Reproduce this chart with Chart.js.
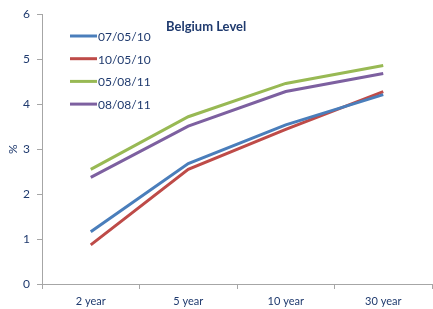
<!DOCTYPE html>
<html>
<head>
<meta charset="utf-8">
<script src="https://cdn.jsdelivr.net/npm/chart.js@4"></script>
<style>
  html, body { margin: 0; padding: 0; background: #fff; }
  #wrap { width: 433px; height: 309px; }
</style>
</head>
<body>
<div id="wrap"><canvas id="yieldChart" width="433" height="309"></canvas></div>
<script>
// data
const maturities = ["2 year", "5 year", "10 year", "30 year"];
const seriesNames = ["07/05/10", "10/05/10", "05/08/11", "08/08/11"];
const s070510 = [1.16, 2.68, 3.54, 4.21];
const s100510 = [0.87, 2.55, 3.44, 4.28];
const s050811 = [2.55, 3.72, 4.46, 4.86];
const s080811 = [2.37, 3.51, 4.28, 4.68];
const yTicks = [0, 1, 2, 3, 4, 5, 6];

const colors = ["#4A7EBB", "#BE4B48", "#98B954", "#7D60A0"];
const textColor = "#1F3A6E";
const font = "Lato, 'Open Sans', sans-serif";

// legend + title sit inside the plot area, draw them by hand
const insideLegend = {
  id: "insideLegend",
  afterDraw(chart) {
    const ctx = chart.ctx;
    ctx.save();
    ctx.font = "bold 13px " + font;
    ctx.fillStyle = textColor;
    ctx.textBaseline = "middle";
    ctx.fillText("Belgium Level", 166, 27);

    ctx.font = "12px " + font;
    chart.data.datasets.forEach((ds, i) => {
      const y = 36 + i * 22.7;
      ctx.strokeStyle = ds.borderColor;
      ctx.lineWidth = 3;
      ctx.beginPath();
      ctx.moveTo(70, y);
      ctx.lineTo(97, y);
      ctx.stroke();
      ctx.fillStyle = textColor;
      ctx.fillText(ds.label, 98, y + 1);
    });
    ctx.restore();
  }
};

const allSeries = [s070510, s100510, s050811, s080811];

new Chart(document.getElementById("yieldChart"), {
  type: "line",
  data: {
    labels: maturities,
    datasets: allSeries.map((vals, i) => ({
      label: seriesNames[i],
      data: vals,
      borderColor: colors[i],
      backgroundColor: colors[i],
      borderWidth: 3,
      pointRadius: 0,
      tension: 0
    }))
  },
  options: {
    responsive: false,
    animation: false,
    layout: { padding: { top: 13, right: 1, left: 0, bottom: 0 } },
    plugins: {
      legend: { display: false },
      tooltip: { enabled: false }
    },
    scales: {
      x: {
        offset: true,
        grid: { offset: true, drawOnChartArea: false, drawTicks: true, tickLength: 5, color: "#A6A6A6" },
        border: { color: "#A6A6A6", width: 1 },
        ticks: { color: textColor, font: { size: 11, family: font }, padding: 6 },
        afterFit(scale) { scale.height = 25; }
      },
      y: {
        min: 0,
        max: 6,
        afterBuildTicks(scale) { scale.ticks = yTicks.map(v => ({ value: v })); },
        grid: { drawOnChartArea: false, drawTicks: true, tickLength: 5, color: "#A6A6A6" },
        border: { color: "#A6A6A6", width: 1 },
        ticks: { color: textColor, font: { size: 12, family: font }, padding: 7 },
        title: { display: true, text: "%", color: textColor, font: { size: 12, family: font }, padding: { top: 6, bottom: 0 } },
        afterFit(scale) { scale.width = 42; }
      }
    }
  },
  plugins: [insideLegend]
});
</script>
</body>
</html>
